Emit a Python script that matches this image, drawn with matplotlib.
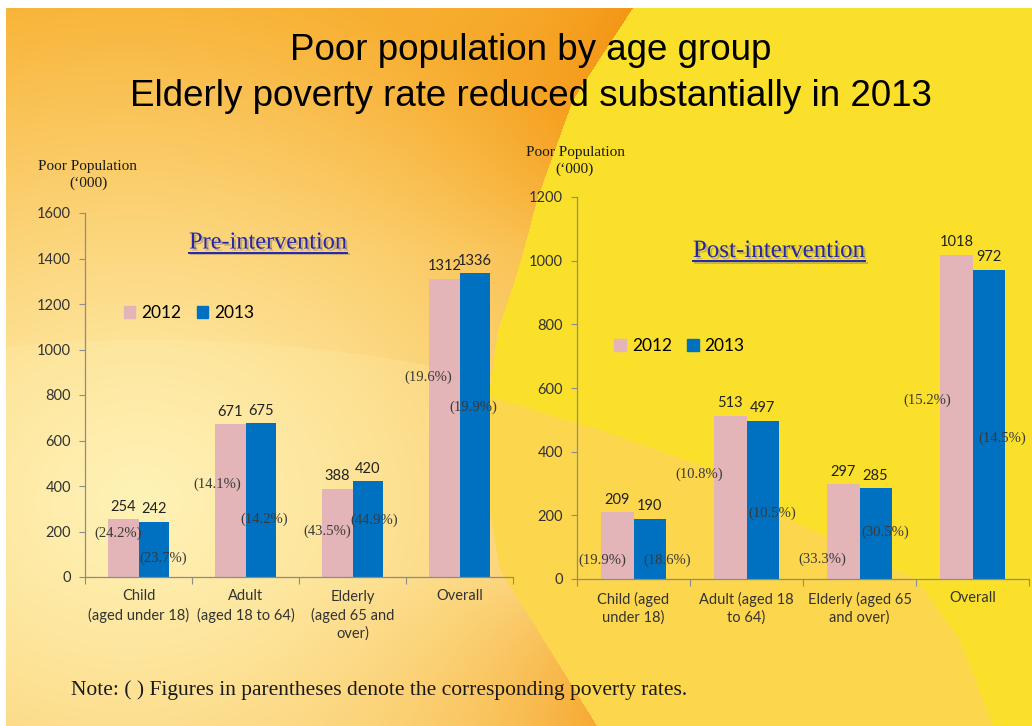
import numpy as np
import matplotlib.pyplot as plt
import matplotlib.patheffects as pe
from matplotlib.patches import Patch
from matplotlib.lines import Line2D
from matplotlib import font_manager

# data
cats_pre = ['Child\n(aged under 18)', 'Adult\n(aged 18 to 64)',
            'Elderly\n(aged 65 and\nover)', 'Overall']
cats_post = ['Child (aged\nunder 18)', 'Adult (aged 18\nto 64)',
             'Elderly (aged 65\nand over)', 'Overall']
years = ['2012', '2013']
pre_2012 = [254, 671, 388, 1312]
pre_2013 = [242, 675, 420, 1336]
post_2012 = [209, 513, 297, 1018]
post_2013 = [190, 497, 285, 972]
pre_rate_2012 = [24.2, 14.1, 43.5, 19.6]
pre_rate_2013 = [23.7, 14.2, 44.9, 19.9]
post_rate_2012 = [19.9, 10.8, 33.3, 15.2]
post_rate_2013 = [18.6, 10.5, 30.5, 14.5]

# where the rate labels sit (x offset from category centre, y in data units)
pre_pos_2012 = [(-0.19, 193), (-0.26, 409), (-0.24, 202), (-0.29, 879)]
pre_pos_2013 = [(0.23, 84), (0.17, 255), (0.20, 250), (0.13, 747)]
post_pos_2012 = [(-0.28, 60), (-0.42, 330), (-0.33, 63), (-0.40, 562)]
post_pos_2013 = [(0.30, 60), (0.23, 207), (0.23, 148), (0.26, 443)]

PINK = '#e3b5b8'
BLUE = '#0070c0'
W, H = 1032, 726

names = {f.name for f in font_manager.fontManager.ttflist}
if 'Liberation Sans Narrow' in names:
    TITLE_FONT, TITLE_SIZE = 'Liberation Sans Narrow', 27
else:
    TITLE_FONT, TITLE_SIZE = 'Liberation Sans', 26.5
CAL = 'Lato'
SERIF = 'Liberation Serif'


def px(x, y):
    return x / W, 1 - y / H


fig = plt.figure(figsize=(W / 100, H / 100), dpi=100)

# slide background
yy, xx = np.mgrid[0:H, 0:W] + 0.5
cx = np.interp(yy, [8, 100, 200, 250, 290, 330, 400, 500, 570, 650, 726],
               [633, 573, 537, 524, 512, 498, 488, 488, 500, 550, 597])
by = np.interp(xx, [485, 600, 700, 780, 917, 960, 993, 1032],
               [395, 430, 465, 515, 580, 640, 726, 800])
pale = np.array([255, 242, 182]) / 255
orange = np.array([248, 178, 52]) / 255
deep = np.array([244, 150, 22]) / 255
t = np.sqrt(((xx - 140) / 620) ** 2 + ((yy - 500) / 520) ** 2)
t = np.clip(t, 0, 1) ** 1.2
arc = 340 + 40 * ((xx - 150) / 350) ** 2
t = np.where(yy > arc, t * 0.8, t)
img = pale + (orange - pale) * t[..., None]
d = np.clip(cx - xx, 0, None)
wy = np.clip((250 - yy) / 220, 0, 1) * 1.0 + np.clip((yy - 580) / 140, 0, 1) * 0.6
band = np.exp(-d / 110) * wy
img = img + (deep - img) * band[..., None]
right = xx > cx
img[right] = np.array([250, 224, 42]) / 255
low = right & (yy > by)
img[low] = np.array([252, 214, 76]) / 255
img[(yy < 8) | (xx < 6)] = 1.0
bg = fig.add_axes([0, 0, 1, 1])
bg.imshow(img, extent=[0, W, H, 0], aspect='auto', interpolation='bilinear')
bg.set_xlim(0, W)
bg.set_ylim(H, 0)
bg.axis('off')

fig.text(*px(531, 50), 'Poor population by age group', ha='center',
         va='center', family=TITLE_FONT, fontsize=TITLE_SIZE)
fig.text(*px(531, 96), 'Elderly poverty rate reduced substantially in 2013',
         ha='center', va='center', family=TITLE_FONT, fontsize=TITLE_SIZE)
fig.text(*px(71, 690),
         'Note: ( ) Figures in parentheses denote the corresponding poverty rates.',
         ha='left', va='center', family=SERIF, fontsize=15.5, color='#1a1a1a')


def draw_panel(rect, cats, v12, v13, r12, r13, pos12, pos13, ymax,
               title, title_xy, title_size, leg_xy, ylab_xy):
    ax = fig.add_axes(rect)
    ax.patch.set_alpha(0)
    x = np.arange(len(cats))
    w = 0.285
    ax.bar(x - w / 2, v12, w, color=PINK)
    ax.bar(x + w / 2, v13, w, color=BLUE)
    for i in range(len(cats)):
        ax.annotate(str(v12[i]), (x[i] - w / 2, v12[i]), xytext=(0, 4),
                    textcoords='offset points', ha='center', va='bottom',
                    family=CAL, fontsize=10.5, color='#222222')
        ax.annotate(str(v13[i]), (x[i] + w / 2, v13[i]), xytext=(0, 4),
                    textcoords='offset points', ha='center', va='bottom',
                    family=CAL, fontsize=10.5, color='#222222')
        ax.text(x[i] + pos12[i][0], pos12[i][1], f'({r12[i]:.1f}%)',
                ha='center', va='center', family=SERIF, fontsize=10.5,
                color='#3a3a3a')
        ax.text(x[i] + pos13[i][0], pos13[i][1], f'({r13[i]:.1f}%)',
                ha='center', va='center', family=SERIF, fontsize=10.5,
                color='#3a3a3a')

    ax.set_xlim(-0.5, len(cats) - 0.5)
    ax.set_ylim(0, ymax)
    ax.set_yticks(np.arange(0, ymax + 1, 200))
    ax.set_xticks(np.arange(len(cats) + 1) - 0.5)
    ax.set_xticklabels([])
    ax.set_xticks(x, minor=True)
    ax.set_xticklabels(cats, minor=True, family=CAL, fontsize=10.5,
                       color='#333333', linespacing=1.35)
    ax.tick_params(axis='x', which='minor', length=0, pad=9)
    ax.tick_params(axis='x', which='major', length=5, color='#8c8c8c')
    ax.tick_params(axis='y', length=4, color='#8c8c8c', pad=6)
    for lab in ax.get_yticklabels():
        lab.set_family(CAL)
        lab.set_fontsize(10.5)
        lab.set_color('#333333')
    for s in ['top', 'right']:
        ax.spines[s].set_visible(False)
    for s in ['left', 'bottom']:
        ax.spines[s].set_color('#8c8c8c')
        ax.spines[s].set_linewidth(0.9)

    ax.legend(handles=[Patch(color=PINK, label=years[0]),
                       Patch(color=BLUE, label=years[1])],
              ncol=2, frameon=False, loc='center', bbox_to_anchor=leg_xy,
              handlelength=0.65, handleheight=0.65, handletextpad=0.35,
              columnspacing=0.9, prop={'family': CAL, 'size': 12.5})

    fig.text(*px(*ylab_xy), "Poor Population\n(\u2018000)", ha='center',
             va='center', family=SERIF, fontsize=11, linespacing=1.4,
             color='#1a1a1a')

    shadow = [pe.withSimplePatchShadow(offset=(1.5, -1.5),
                                       shadow_rgbFace='#7a7a7a', alpha=0.45)]
    tt = fig.text(*px(*title_xy), title, ha='center', va='center',
                  family=SERIF, fontsize=title_size, color='#2626a6',
                  path_effects=shadow)
    return tt


t1 = draw_panel([85 / W, 1 - 577 / H, 428 / W, 364 / H], cats_pre,
                pre_2012, pre_2013, pre_rate_2012, pre_rate_2013,
                pre_pos_2012, pre_pos_2013, 1600, 'Pre-intervention',
                (268, 243), 17.5, (0.243, 0.725), (88, 175))
t2 = draw_panel([577 / W, 1 - 579 / H, 452 / W, 382 / H], cats_post,
                post_2012, post_2013, post_rate_2012, post_rate_2013,
                post_pos_2012, post_pos_2013, 1200, 'Post-intervention',
                (779, 251), 18, (0.227, 0.61), (575, 161))

# underline the panel titles
fig.canvas.draw()
for tt in [t1, t2]:
    bb = tt.get_window_extent()
    fig.add_artist(Line2D([bb.x0 / W, bb.x1 / W],
                          [(bb.y0 + 1) / H, (bb.y0 + 1) / H],
                          color='#2626a6', lw=1.4,
                          path_effects=[pe.SimpleLineShadow(offset=(1.2, -1.2),
                                                            shadow_color='#7a7a7a',
                                                            alpha=0.45),
                                        pe.Normal()]))

fig.savefig('out.png', dpi=100)
